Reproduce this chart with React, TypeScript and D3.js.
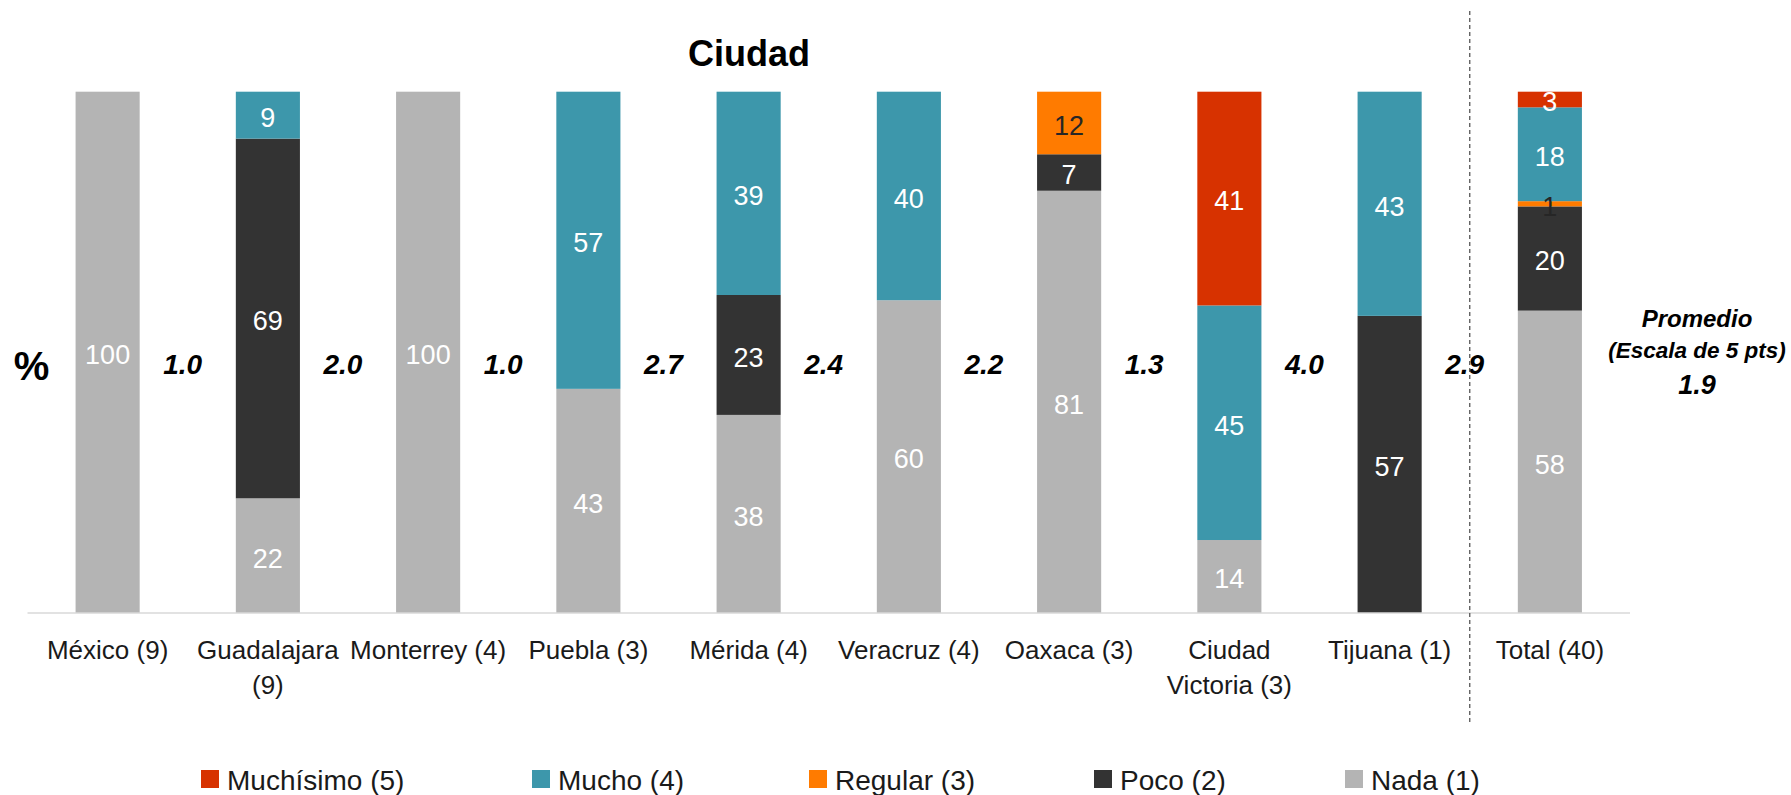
import React from "react";
import * as d3 from "d3";

const categories = [
  "México (9)",
  "Guadalajara (9)",
  "Monterrey (4)",
  "Puebla (3)",
  "Mérida (4)",
  "Veracruz (4)",
  "Oaxaca (3)",
  "Ciudad Victoria (3)",
  "Tijuana (1)",
  "Total (40)",
];
const categoryLines = [
  ["México (9)"],
  ["Guadalajara", "(9)"],
  ["Monterrey (4)"],
  ["Puebla (3)"],
  ["Mérida (4)"],
  ["Veracruz (4)"],
  ["Oaxaca (3)"],
  ["Ciudad", "Victoria (3)"],
  ["Tijuana (1)"],
  ["Total (40)"],
];

// series, bottom to top
const seriesNames = ["Nada (1)", "Poco (2)", "Regular (3)", "Mucho (4)", "Muchísimo (5)"];
const nada = [100, 22, 100, 43, 38, 60, 81, 14, 0, 58];
const poco = [0, 69, 0, 0, 23, 0, 7, 0, 57, 20];
const regular = [0, 0, 0, 0, 0, 0, 12, 0, 0, 1];
const mucho = [0, 9, 0, 57, 39, 40, 0, 45, 43, 18];
const muchisimo = [0, 0, 0, 0, 0, 0, 0, 41, 0, 3];

const promedios = ["1.0", "2.0", "1.0", "2.7", "2.4", "2.2", "1.3", "4.0", "2.9"];
const promedioTotal = "1.9";

const colors = ["#b4b4b4", "#333333", "#ff7b00", "#3d97ab", "#d73200"];
const labelColors = ["#ffffff", "#ffffff", "#262626", "#ffffff", "#ffffff"];

const legendOrder = [4, 3, 2, 1, 0];
const legendX = [201, 532, 809, 1094, 1345];

const W = 1791;
const H = 795;
const FONT = "'Liberation Sans', Arial, sans-serif";

export default function App() {
  const series = [nada, poco, regular, mucho, muchisimo];
  const x = d3
    .scaleBand<string>()
    .domain(categories)
    .range([27.5, 1630])
    .paddingInner(0.6)
    .paddingOuter(0.3);
  const y = d3.scaleLinear().domain([0, 100]).range([613, 91.7]);

  const rows = categories.map((c, i) => {
    const r: any = { cat: c };
    seriesNames.forEach((s, k) => (r[s] = series[k][i]));
    return r;
  });
  const stacked = d3.stack<any>().keys(seriesNames)(rows);

  const bw = x.bandwidth();
  const step = x.step();
  const sepX = (x("Total (40)") as number) - (step - bw) / 2;

  return (
    <svg
      width={W}
      height={H}
      style={{ position: "absolute", left: 0, top: 0, display: "block", background: "#fff" }}
      fontFamily={FONT}
    >
      <text x={749} y={66} textAnchor="middle" fontSize={36} fontWeight="bold" fill="#000">
        Ciudad
      </text>
      <text x={31.5} y={380} textAnchor="middle" fontSize={40} fontWeight="bold" fill="#000">
        %
      </text>

      {stacked.map((layer, k) =>
        layer.map((d, i) => {
          const v = d[1] - d[0];
          if (v <= 0) return null;
          const x0 = x(categories[i]) as number;
          return (
            <rect
              key={`r${k}-${i}`}
              x={x0}
              y={y(d[1])}
              width={bw}
              height={y(d[0]) - y(d[1])}
              fill={colors[k]}
            />
          );
        })
      )}

      <line x1={27.5} x2={1630} y1={613} y2={613} stroke="#d9d9d9" strokeWidth={1.5} />

      {stacked.map((layer, k) =>
        layer.map((d, i) => {
          const v = d[1] - d[0];
          if (v <= 0) return null;
          const cx = (x(categories[i]) as number) + bw / 2;
          const cy = (y(d[0]) + y(d[1])) / 2;
          return (
            <text
              key={`t${k}-${i}`}
              x={cx}
              y={cy}
              dy="0.44em"
              textAnchor="middle"
              fontSize={27}
              fill={labelColors[k]}
            >
              {v}
            </text>
          );
        })
      )}

      {promedios.map((p, i) => (
        <text
          key={`p${i}`}
          x={(x(categories[i]) as number) + bw / 2 + 75}
          y={374}
          textAnchor="middle"
          fontSize={28}
          fontWeight="bold"
          fontStyle="italic"
          fill="#000"
        >
          {p}
        </text>
      ))}

      <line
        x1={sepX}
        x2={sepX}
        y1={11}
        y2={722}
        stroke="#555"
        strokeWidth={1.3}
        strokeDasharray="4,3"
      />

      <g fontWeight="bold" fontStyle="italic" fill="#000" textAnchor="middle">
        <text x={1697} y={327} fontSize={24}>
          Promedio
        </text>
        <text x={1697} y={358} fontSize={22.5}>
          (Escala de 5 pts)
        </text>
        <text x={1697} y={394} fontSize={27}>
          {promedioTotal}
        </text>
      </g>

      {categoryLines.map((lines, i) => (
        <text
          key={`c${i}`}
          x={(x(categories[i]) as number) + bw / 2}
          y={659}
          textAnchor="middle"
          fontSize={26}
          fill="#1a1a1a"
        >
          {lines.map((l, j) => (
            <tspan key={j} x={(x(categories[i]) as number) + bw / 2} dy={j === 0 ? 0 : 35}>
              {l}
            </tspan>
          ))}
        </text>
      ))}

      {legendOrder.map((k, j) => (
        <g key={`l${k}`} transform={`translate(${legendX[j]},0)`}>
          <rect x={0} y={770} width={18} height={18} fill={colors[k]} />
          <text x={26} y={790} fontSize={28} fill="#1a1a1a">
            {seriesNames[k]}
          </text>
        </g>
      ))}
    </svg>
  );
}
